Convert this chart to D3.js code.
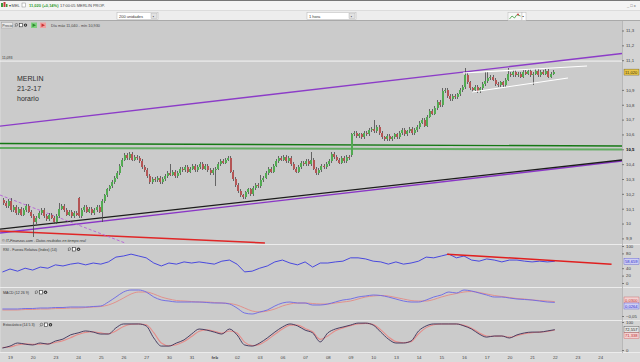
<!DOCTYPE html>
<html>
<head>
<meta charset="utf-8">
<script src="https://cdnjs.cloudflare.com/ajax/libs/d3/7.8.5/d3.min.js"></script>
<style>
  html, body { margin: 0; padding: 0; background: #f3f3f3; }
  svg { display: block; font-family: 'Liberation Sans', Arial, sans-serif; }
</style>
</head>
<body>
<svg id="chart" width="640" height="362"></svg>
<script>
'use strict';

// one label per session on the time axis (index 0 = 19 Jan)
var dayLabels = ['19','20','23','24','25','26','27','30','31','feb','02','03','06','07','08','09','10',
  '13','14','15','16','17','20','21','22','23','24'];

// hourly closes, one row per session; first row is the tail of 18 Jan
var hourlyClose = [
  [10.14, 10.12, 10.15],
  [10.09, 10.11, 10.07, 10.10, 10.06, 10.09, 10.12, 10.08, 10.05],
  [10.01, 10.04, 10.07, 10.09, 10.05, 10.03, 10.06, 10.04, 10.01],
  [10.05, 10.10, 10.12, 10.09, 10.06, 10.08, 10.05, 10.07, 10.06],
  [10.05, 10.09, 10.11, 10.08, 10.10, 10.07, 10.09, 10.11, 10.08],
  [10.15, 10.19, 10.23, 10.25, 10.28, 10.31, 10.34, 10.39, 10.43],
  [10.46, 10.44, 10.47, 10.43, 10.45, 10.44, 10.42, 10.38, 10.36],
  [10.32, 10.28, 10.30, 10.29, 10.31, 10.28, 10.30, 10.32, 10.34],
  [10.33, 10.35, 10.32, 10.34, 10.37, 10.36, 10.38, 10.35, 10.37],
  [10.39, 10.36, 10.38, 10.40, 10.37, 10.39, 10.36, 10.34, 10.36],
  [10.37, 10.40, 10.42, 10.41, 10.43, 10.44, 10.35, 10.30, 10.26],
  [10.22, 10.19, 10.18, 10.21, 10.23, 10.20, 10.24, 10.26, 10.25],
  [10.29, 10.31, 10.34, 10.37, 10.35, 10.39, 10.42, 10.44, 10.43],
  [10.45, 10.42, 10.44, 10.40, 10.37, 10.35, 10.38, 10.41, 10.40],
  [10.42, 10.40, 10.43, 10.37, 10.34, 10.36, 10.39, 10.38, 10.40],
  [10.42, 10.47, 10.45, 10.43, 10.41, 10.44, 10.42, 10.45, 10.44],
  [10.60, 10.61, 10.59, 10.60, 10.58, 10.61, 10.60, 10.63, 10.64],
  [10.62, 10.65, 10.61, 10.58, 10.57, 10.59, 10.57, 10.58, 10.60],
  [10.58, 10.61, 10.63, 10.60, 10.62, 10.64, 10.61, 10.63, 10.65],
  [10.68, 10.70, 10.66, 10.72, 10.76, 10.74, 10.78, 10.82, 10.80],
  [10.89, 10.90, 10.86, 10.84, 10.86, 10.85, 10.87, 10.90, 10.92],
  [11.00, 10.95, 10.91, 10.90, 10.92, 10.89, 10.91, 10.94, 10.96],
  [10.98, 10.99, 10.97, 10.94, 10.93, 10.95, 10.93, 10.97, 11.01],
  [11.00, 11.02, 11.00, 11.01, 10.99, 11.02, 11.01, 11.03, 11.00],
  [11.01, 11.03, 11.00, 11.02, 11.01, 11.03, 10.99, 11.01, 11.02]
];

// [session, hour slot, price] where a bar differs from the default
var openFix = [[-1, 6, 10.16], [3, 0, 10.17], [4, 0, 10.08], [15, 0, 10.46]];
var highFix = [[0, 0, 10.17], [2, 1, 10.14], [3, 0, 10.18], [7, 0, 10.40], [11, 0, 10.33],
  [13, 2, 10.48], [16, 0, 10.70], [19, 0, 10.91], [20, 0, 11.05], [20, 8, 11.02],
  [21, 0, 11.02], [21, 8, 11.05]];
var lowFix = [[1, 0, 9.91], [4, 0, 10.01], [9, 0, 10.25], [23, 0, 10.93]];

// indicators, three samples per session starting a third of a session before 19 Jan
var rsi = [29.7, 37.8, 32, 40, 35, 43, 40, 49, 46, 51, 54, 49, 54, 51, 57, 70, 73, 78, 73, 68,
  54, 46, 54, 51, 57, 54, 57, 54, 51, 59, 62, 51, 30, 32, 40, 46, 57, 62, 54, 49,
  57, 43, 54, 54, 57, 59, 68, 68, 65, 59, 57, 51, 57, 51, 54, 59, 70, 68, 73, 78,
  68, 73, 62, 59, 65, 62, 57, 62, 62, 59, 57, 59, 57, 58.659];
var macdLine = [-0.015, -0.015, -0.015, -0.0125, -0.0125, -0.01, -0.01, -0.0075, -0.0075, -0.005,
  -0.005, -0.005, -0.0025, 0, 0.02, 0.045, 0.07, 0.08, 0.08, 0.07,
  0.045, 0.03, 0.025, 0.02, 0.02, 0.02, 0.02, 0.0175, 0.015, 0.015,
  0.01, -0.01, -0.035, -0.04, -0.03, -0.02, 0, 0.015, 0.02, 0.015,
  0.015, 0.005, 0.005, 0.01, 0.02, 0.03, 0.035, 0.045, 0.05, 0.055,
  0.0525, 0.045, 0.035, 0.025, 0.02, 0.02, 0.03, 0.045, 0.055, 0.07,
  0.065, 0.08, 0.075, 0.065, 0.055, 0.045, 0.045, 0.04, 0.035, 0.0325,
  0.03, 0.025, 0.02, 0.018];
var macdSignal = [-0.02, -0.02, -0.02, -0.0175, -0.0175, -0.015, -0.015, -0.0125, -0.0125, -0.01,
  -0.01, -0.0075, -0.005, -0.0025, 0.005, 0.02, 0.04, 0.06, 0.07, 0.07,
  0.06, 0.045, 0.035, 0.0275, 0.025, 0.0225, 0.02, 0.02, 0.0175, 0.015,
  0.0125, 0.005, -0.01, -0.025, -0.03, -0.025, -0.015, 0, 0.01, 0.015,
  0.015, 0.0125, 0.01, 0.01, 0.015, 0.02, 0.025, 0.035, 0.045, 0.05,
  0.0525, 0.05, 0.0425, 0.035, 0.0275, 0.025, 0.025, 0.0325, 0.045, 0.055,
  0.0625, 0.07, 0.0725, 0.0675, 0.06, 0.0525, 0.0475, 0.0425, 0.0375, 0.035,
  0.03, 0.0275, 0.025, 0.022];
var stochK = [7, 14, 25, 21, 18, 25, 21, 32, 39, 54, 61, 68, 64, 57, 57, 79, 93, 93, 93, 86,
  43, 14, 14, 25, 36, 57, 75, 71, 64, 57, 75, 54, 18, 14, 25, 43, 64, 82, 93, 86,
  71, 61, 29, 61, 75, 82, 89, 96, 96, 89, 64, 39, 25, 25, 32, 68, 86, 93, 93, 93,
  93, 86, 75, 57, 46, 50, 50, 43, 54, 61, 64, 64, 68, 72.557];
var stochD = [9, 11, 18, 22, 20, 21, 22, 27, 33, 44, 55, 63, 65, 61, 58, 68, 84, 92, 93, 90,
  62, 25, 15, 19, 30, 48, 67, 72, 67, 60, 68, 61, 28, 16, 20, 36, 56, 75, 89, 89,
  77, 65, 38, 50, 69, 79, 87, 93, 95, 91, 72, 47, 30, 26, 30, 58, 80, 90, 93, 93,
  93, 88, 78, 62, 50, 49, 50, 46, 51, 58, 62, 64, 66, 71.338];

// hand-drawn lines, [session, price] end points
var upperChannel = [[-0.44, 10.656], [26.96, 11.145]];
var resistance = [[-0.44, 11.094], [26.96, 11.094]];
var greenLevelA = [[-0.44, 10.539], [26.96, 10.522]];
var greenLevelB = [[-0.44, 10.509], [26.96, 10.499]];
var blackSupport = [[-0.44, 9.963], [26.96, 10.428]];
var purpleSupport = [[-0.44, 9.936], [26.96, 10.421]];
var redDowntrend = [[-0.44, 9.95], [11.23, 9.869]];
var dashedDowntrend = [[-0.44, 10.192], [5.07, 9.869]];
var wedgeTop = [[19.96, 11.014], [25.42, 11.061]];
var wedgeBottom = [[20.35, 10.886], [24.58, 10.98]];
var rsiTrend = [[19.25, 78], [26.5, 51]];

var priceTicks = d3.range(99, 114).map(function(v) { return v / 10; });
var rsiTicks = [0, 20, 40, 60, 80, 100];
var macdTicks = [-0.05, 0, 0.05];
var stochTicks = [0, 50, 100];

var lastPrice = 11.02, lastMacd = 0.0264, lastSignal = 0.03;

var es = d3.formatLocale({ decimal: ',', thousands: '.', grouping: [3], currency: ['', '€'] });
var WICK = 0.012;

var svg = d3.select('#chart');
var W = 622;

var xDay = d3.scaleLinear().domain([0, 26]).range([10, 600.2]);
var yPrice = d3.scaleLinear().domain([9.9, 11.3]).range([238.4, 30.5]);
var yRsi = d3.scaleLinear().domain([0, 100]).range([283, 246]);
var yMacd = d3.scaleLinear().domain([-0.05, 0.05]).range([316, 296]);
var yStoch = d3.scaleLinear().domain([0, 100]).range([350, 322]);

var panes = [
  { id: 'p0', top: 21, bottom: 244 },
  { id: 'p1', top: 245, bottom: 287 },
  { id: 'p2', top: 288, bottom: 320 },
  { id: 'p3', top: 321, bottom: 352 }
];

drawFrame();
drawToolbar();
var main = pane(panes[0]);
drawPriceLines(main);
drawCandles(main);
drawIndicators();
drawAxes();

function pane(p) {
  svg.append('clipPath').attr('id', 'clip-' + p.id)
    .append('rect').attr('x', 0).attr('y', p.top).attr('width', W).attr('height', p.bottom - p.top);
  return svg.append('g').attr('clip-path', 'url(#clip-' + p.id + ')');
}

function drawFrame() {
  svg.append('rect').attr('x', 0).attr('y', 21).attr('width', 640).attr('height', 341).attr('fill', '#d4d4d4');
  panes.forEach(function(p) {
    svg.append('rect').attr('x', 1).attr('y', p.top).attr('width', W - 1)
      .attr('height', p.bottom - p.top).attr('fill', '#cbcbcb');
  });
  svg.append('rect').attr('x', 0).attr('y', 353).attr('width', 640).attr('height', 9).attr('fill', '#dadada');
  [244.5, 287.5, 320.5, 352.5].forEach(function(y) {
    svg.append('line').attr('x1', 0).attr('x2', 640).attr('y1', y).attr('y2', y)
      .attr('stroke', '#ececec').attr('stroke-width', 1);
  });
  svg.append('line').attr('x1', W + 0.5).attr('x2', W + 0.5).attr('y1', 21).attr('y2', 353)
    .attr('stroke', '#b8b8b8');
}

function smallIcons(x, y) {
  var g = svg.append('g').attr('transform', 'translate(' + x + ',' + y + ')');
  g.append('circle').attr('cx', 1.5).attr('cy', 1.5).attr('r', 1.3).attr('fill', 'none').attr('stroke', '#555').attr('stroke-width', 0.6);
  g.append('line').attr('x1', 0).attr('y1', 3.5).attr('x2', 0.8).attr('y2', 2.5).attr('stroke', '#555').attr('stroke-width', 0.7);
  g.append('rect').attr('x', 4.5).attr('y', 0).attr('width', 3).attr('height', 3.5).attr('fill', '#fff').attr('stroke', '#333').attr('stroke-width', 0.6);
  g.append('circle').attr('cx', 10.5).attr('cy', 1.8).attr('r', 1.7).attr('fill', '#333');
  g.append('circle').attr('cx', 10.5).attr('cy', 1.8).attr('r', 0.6).attr('fill', '#ddd');
  return g;
}

function drawToolbar() {
  var t = svg.append('g');
  t.append('rect').attr('width', 640).attr('height', 21).attr('fill', '#f4f4f4');
  t.append('rect').attr('y', 11).attr('width', 640).attr('height', 10).attr('fill', '#ededed');
  t.append('line').attr('x1', 0).attr('x2', 640).attr('y1', 0.5).attr('y2', 0.5).attr('stroke', '#777');
  t.append('line').attr('x1', 0).attr('x2', 640).attr('y1', 10.5).attr('y2', 10.5).attr('stroke', '#dcdcdc');
  t.append('line').attr('x1', 0).attr('x2', 640).attr('y1', 20.5).attr('y2', 20.5).attr('stroke', '#a9a9a9');

  // instrument icon
  t.append('rect').attr('x', 1).attr('y', 3).attr('width', 2).attr('height', 4).attr('fill', '#3a9a3a');
  t.append('rect').attr('x', 3.5).attr('y', 2).attr('width', 2).attr('height', 5).attr('fill', '#c94040');
  t.append('rect').attr('x', 6).attr('y', 4).attr('width', 1.5).attr('height', 3).attr('fill', '#3a9a3a');
  t.append('text').attr('x', 8.5).attr('y', 7).attr('font-size', 4).attr('fill', '#444').text('▾ MEL');
  t.append('rect').attr('x', 22).attr('y', 3).attr('width', 3.5).attr('height', 4).attr('fill', '#fff').attr('stroke', '#888').attr('stroke-width', 0.5);
  t.append('text').attr('x', 29).attr('y', 7).attr('font-size', 4).attr('font-weight', 'bold')
    .attr('fill', '#2f9b2f').text('11,020 (+0,14%)');
  t.append('text').attr('x', 60).attr('y', 7).attr('font-size', 4).attr('fill', '#444').text('17:00:05 MERLIN PROP.');
  t.append('text').attr('x', 627).attr('y', 7).attr('font-size', 4).attr('fill', '#666').text('_ □ x');

  dropdown(t, 117, 41, '200 unidades');
  dropdown(t, 307, 49, '1 hora');

  // chart type selector
  t.append('rect').attr('x', 508).attr('y', 12.5).attr('width', 14).attr('height', 8).attr('fill', '#f8f8f8').attr('stroke', '#bbb').attr('stroke-width', 0.5);
  t.append('polyline').attr('points', '509.5,19 512,16 514.5,18 517,14.5 520.5,16')
    .attr('fill', 'none').attr('stroke', '#3a9a3a').attr('stroke-width', 0.8);
  t.append('circle').attr('cx', 518).attr('cy', 14.5).attr('r', 1).attr('fill', '#d04040');
  t.append('rect').attr('x', 522).attr('y', 12.5).attr('width', 4).attr('height', 8).attr('fill', '#fff').attr('stroke', '#bbb').attr('stroke-width', 0.5);
  t.append('text').attr('x', 522.6).attr('y', 18).attr('font-size', 4).attr('fill', '#222').text('▪');

  // price header inside main pane
  svg.append('rect').attr('x', 1.5).attr('y', 22.5).attr('width', 11).attr('height', 5.5)
    .attr('fill', '#e8e8e8').attr('stroke', '#999').attr('stroke-width', 0.4);
  svg.append('text').attr('x', 2.3).attr('y', 26.8).attr('font-size', 3.6).attr('fill', '#333').text('Precio');
  smallIcons(15, 23.3);
  svg.append('rect').attr('x', 31).attr('y', 22.5).attr('width', 6).attr('height', 5.5).attr('fill', '#7fd07f');
  svg.append('path').attr('d', 'M32.5,23.5 L36,25.3 L32.5,27 Z').attr('fill', '#2a8a2a');
  svg.append('rect').attr('x', 40).attr('y', 22.5).attr('width', 6).attr('height', 5.5).attr('fill', '#f0a0a0');
  svg.append('path').attr('d', 'M41.5,23.5 L45,25.3 L41.5,27 Z').attr('fill', '#c83030');
  svg.append('text').attr('x', 51).attr('y', 27).attr('font-size', 3.8).attr('fill', '#444')
    .text('Día máx 11,040 - mín 10,930');
}

function dropdown(g, x, w, label) {
  g.append('rect').attr('x', x).attr('y', 12.5).attr('width', w).attr('height', 7)
    .attr('fill', '#fff').attr('stroke', '#b5b5b5').attr('stroke-width', 0.5);
  g.append('rect').attr('x', x + w - 7).attr('y', 13.5).attr('width', 6).attr('height', 5)
    .attr('fill', '#e2e2e2').attr('stroke', '#aaa').attr('stroke-width', 0.4);
  g.append('text').attr('x', x + w - 5.3).attr('y', 17.6).attr('font-size', 3.5).attr('fill', '#222').text('▪');
  g.append('text').attr('x', x + 2).attr('y', 17.6).attr('font-size', 4).attr('fill', '#333').text(label);
}

function seg(g, pts, y, color, width, dash) {
  var line = d3.line()
    .x(function(d) { return xDay(d[0]); })
    .y(function(d) { return y(d[1]); });
  return g.append('path').attr('d', line(pts)).attr('fill', 'none')
    .attr('stroke', color).attr('stroke-width', width)
    .attr('stroke-dasharray', dash || null);
}

function drawPriceLines(g) {
  seg(g, resistance, yPrice, '#f4f4f4', 1);
  seg(g, upperChannel, yPrice, '#8c3cc8', 1.4);
  seg(g, greenLevelB, yPrice, '#62ad62', 2);
  seg(g, greenLevelA, yPrice, '#157815', 1.4);
  seg(g, purpleSupport, yPrice, '#8a36c6', 1.4);
  seg(g, blackSupport, yPrice, '#1c1c1c', 1.3);
  seg(g, redDowntrend, yPrice, '#e02626', 1.5);
  seg(g, dashedDowntrend, yPrice, '#b660d8', 0.9, '3,2');

  g.append('text').attr('x', 2).attr('y', 59).attr('font-size', 3.5).attr('fill', '#333').text('11,093');
  ['MERLIN', '21-2-17', 'horario'].forEach(function(s, i) {
    g.append('text').attr('x', 17).attr('y', 81 + i * 10).attr('font-size', 7)
      .attr('fill', '#2e2e2e').text(s);
  });
  g.append('text').attr('x', 2).attr('y', 242).attr('font-size', 3.7).attr('font-style', 'italic')
    .attr('fill', '#333').text('© IT-Finanzas.com . Datos recibidos en tiempo real');
}

function fixFor(list, day, slot) {
  var hit = list.find(function(f) { return f[0] === day && f[1] === slot; });
  return hit ? hit[2] : null;
}

function buildBars() {
  var bars = [], prev = null;
  hourlyClose.forEach(function(row, r) {
    var day = r - 1, first = 9 - row.length;
    row.forEach(function(c, i) {
      var slot = first + i;
      var o = fixFor(openFix, day, slot);
      if (o == null) o = prev == null ? c : prev;
      var h = fixFor(highFix, day, slot), l = fixFor(lowFix, day, slot);
      bars.push({
        t: day + (slot + 0.5) / 9, o: o, c: c,
        h: h != null ? h : Math.max(o, c) + WICK,
        l: l != null ? l : Math.min(o, c) - WICK
      });
      prev = c;
    });
  });
  return bars;
}

function drawCandles(g) {
  var bars = buildBars();
  var colour = function(d) {
    if (Math.abs(d.c - d.o) < 0.004) return '#9a9a9a';
    return d.c > d.o ? '#52aa52' : '#b45555';
  };
  var cg = g.append('g').attr('shape-rendering', 'crispEdges');
  cg.selectAll('line.wick').data(bars).enter().append('line')
    .attr('class', 'wick')
    .attr('x1', function(d) { return xDay(d.t); })
    .attr('x2', function(d) { return xDay(d.t); })
    .attr('y1', function(d) { return yPrice(d.h); })
    .attr('y2', function(d) { return yPrice(d.l); })
    .attr('stroke', '#4a4a4a').attr('stroke-width', 0.8);
  cg.selectAll('rect.body').data(bars).enter().append('rect')
    .attr('class', 'body')
    .attr('x', function(d) { return xDay(d.t) - 1; })
    .attr('width', 2)
    .attr('y', function(d) { return yPrice(Math.max(d.o, d.c)); })
    .attr('height', function(d) { return Math.max(1, Math.abs(yPrice(d.o) - yPrice(d.c))); })
    .attr('fill', colour);

  seg(g, wedgeTop, yPrice, '#ffffff', 1.1);
  seg(g, wedgeBottom, yPrice, '#ffffff', 1.1);
}

function series(values) {
  return values.map(function(v, k) { return [k / 3 - 1 / 3, v]; });
}

function drawIndicators() {
  var g1 = pane(panes[1]), g2 = pane(panes[2]), g3 = pane(panes[3]);
  var smooth = d3.line().curve(d3.curveMonotoneX)
    .x(function(d) { return xDay(d[0]); });

  seg(g1, series(rsi), yRsi, '#3a3ae0', 0.9);
  seg(g1, rsiTrend, yRsi, '#e01f1f', 1.5);

  g2.append('path').attr('d', smooth.y(function(d) { return yMacd(d[1]); })(series(macdSignal)))
    .attr('fill', 'none').attr('stroke', '#e48a84').attr('stroke-width', 0.9);
  g2.append('path').attr('d', smooth.y(function(d) { return yMacd(d[1]); })(series(macdLine)))
    .attr('fill', 'none').attr('stroke', '#6a66e6').attr('stroke-width', 0.9);

  g3.append('path').attr('d', smooth.y(function(d) { return yStoch(d[1]); })(series(stochD)))
    .attr('fill', 'none').attr('stroke', '#e58d8a').attr('stroke-width', 1.1);
  g3.append('path').attr('d', smooth.y(function(d) { return yStoch(d[1]); })(series(stochK)))
    .attr('fill', 'none').attr('stroke', '#3b3058').attr('stroke-width', 0.9);

  header('RSI - Fuerza Relativa (Index) (14)', 248, 68);
  header('MACD (12 26 9)', 291, 35);
  header('Estocástico (14 5 3)', 323.5, 40);
}

function header(label, y, iconX) {
  svg.append('text').attr('x', 3).attr('y', y + 2.5).attr('font-size', 3.6).attr('fill', '#333').text(label);
  smallIcons(iconX, y - 0.5);
}

// value boxes hide the tick labels that sit under them, as in the original terminal
function rightAxis(scale, ticks, fmt, boxes) {
  var shown = ticks.filter(function(v) {
    return !boxes.some(function(b) { return Math.abs(scale(v) - b) < 5.5; });
  });
  var ax = svg.append('g').attr('transform', 'translate(' + W + ',0)')
    .call(d3.axisRight(scale).tickValues(shown).tickFormat(fmt).tickSize(2).tickPadding(2));
  ax.select('.domain').remove();
  ax.selectAll('line').attr('stroke', '#777');
  ax.selectAll('text').attr('font-size', 4.3).attr('fill', '#3a3a3a')
    .attr('font-family', "'Liberation Sans', Arial, sans-serif");
  return ax;
}

function valueBox(y, text, bg, fg) {
  svg.append('rect').attr('x', 624).attr('y', y - 3).attr('width', 15).attr('height', 6)
    .attr('fill', bg).attr('stroke', fg).attr('stroke-width', 0.3);
  svg.append('text').attr('x', 625).attr('y', y + 1.6).attr('font-size', 4.1).attr('fill', fg).text(text);
}

function drawAxes() {
  var lastRsi = rsi[rsi.length - 1];
  var lastK = stochK[stochK.length - 1], lastD = stochD[stochD.length - 1];
  var yp = yPrice(lastPrice), yr = yRsi(lastRsi);
  var ys = yMacd(lastSignal), ym = Math.max(yMacd(lastMacd), ys + 6);
  var yk = yStoch(lastK), yd = Math.max(yStoch(lastD), yk + 6);

  var pa = rightAxis(yPrice, priceTicks, es.format('.1~f'), [yp]);
  pa.selectAll('text').filter(function(d) { return d === 10.5; })
    .attr('font-weight', 'bold').attr('fill', '#000');
  rightAxis(yRsi, rsiTicks, es.format('d'), [yr]);
  rightAxis(yMacd, macdTicks, es.format('.2~f'), [ys, ym]);
  rightAxis(yStoch, stochTicks, es.format('d'), [yk, yd]);

  valueBox(yp, es.format('.3f')(lastPrice), '#e8c64a', '#3a3000');
  valueBox(yr, es.format('.3f')(lastRsi), '#cfcff2', '#2a2ad0');
  valueBox(ys, es.format('.4f')(lastSignal), '#f2d2d2', '#c03030');
  valueBox(ym, es.format('.4f')(lastMacd), '#cfcff2', '#2a2ad0');
  valueBox(yk, es.format('.3f')(lastK), '#e4e4e4', '#222');
  valueBox(yd, es.format('.3f')(lastD), '#f2d2d2', '#c03030');

  var xa = svg.append('g').attr('transform', 'translate(0,352)')
    .call(d3.axisBottom(xDay).tickValues(d3.range(dayLabels.length))
      .tickFormat(function(i) { return dayLabels[i]; }).tickSize(0).tickPadding(3.5));
  xa.select('.domain').remove();
  xa.selectAll('text').attr('font-size', 4.3).attr('fill', '#444')
    .attr('font-family', "'Liberation Sans', Arial, sans-serif")
    .attr('font-weight', function(i) { return dayLabels[i] === 'feb' ? 'bold' : null; });
}
</script>
</body>
</html>
